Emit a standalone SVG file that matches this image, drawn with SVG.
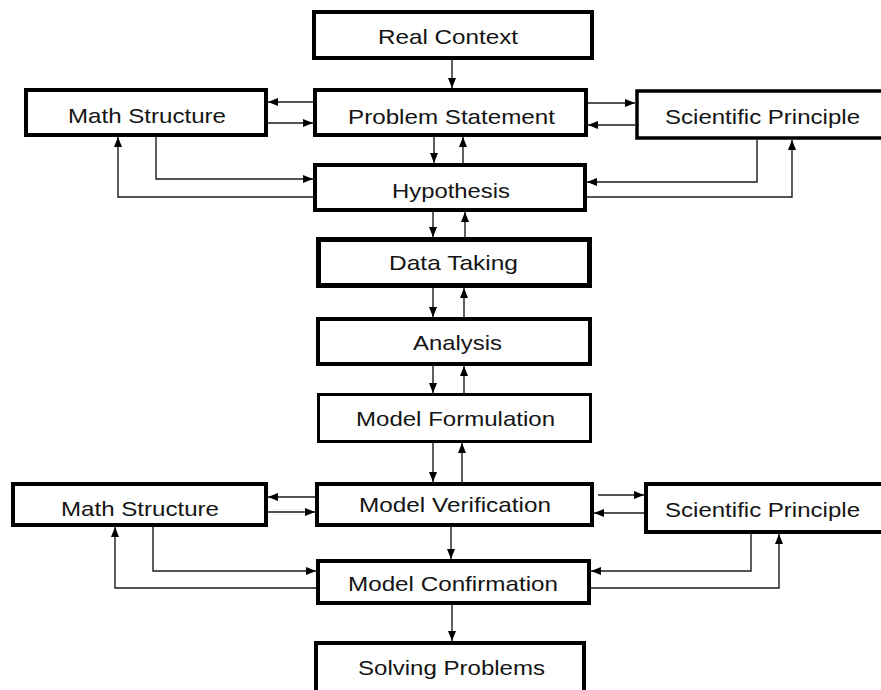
<svg xmlns="http://www.w3.org/2000/svg" width="881" height="690" viewBox="0 0 881 690">
  <style>
    .box { fill: #ffffff; stroke: #000000; stroke-width: 4; }
    .lbl { font-family: "Liberation Sans", Arial, sans-serif; font-size: 21px; fill: #141414; }
    .wire { fill: none; stroke: #1a1a1a; stroke-width: 1.4; marker-end: url(#head); }
  </style>
  <defs>
    <marker id="head" markerUnits="userSpaceOnUse" markerWidth="11" markerHeight="8" refX="10" refY="4" orient="auto">
      <path d="M0,0 L10,4 L0,8 z" fill="#000000"/>
    </marker>
  </defs>
  <rect width="881" height="690" fill="#ffffff"/>

  <!-- connectors -->
  <g id="connectors">
    <line class="wire" x1="452" y1="60" x2="452" y2="88"/>
    <line class="wire" x1="313" y1="102" x2="268" y2="102"/>
    <line class="wire" x1="268" y1="123" x2="313" y2="123"/>
    <line class="wire" x1="588" y1="103" x2="635" y2="103"/>
    <line class="wire" x1="635" y1="125" x2="588" y2="125"/>
    <line class="wire" x1="434" y1="137" x2="434" y2="163"/>
    <line class="wire" x1="463" y1="163" x2="463" y2="137"/>
    <path class="wire" d="M156,137 V179 H313"/>
    <path class="wire" d="M313,197 H118 V137"/>
    <path class="wire" d="M757,140 V182 H587"/>
    <path class="wire" d="M587,197 H792 V140"/>
    <line class="wire" x1="433" y1="212" x2="433" y2="237"/>
    <line class="wire" x1="465" y1="237" x2="465" y2="212"/>
    <line class="wire" x1="433" y1="288" x2="433" y2="317"/>
    <line class="wire" x1="464" y1="317" x2="464" y2="288"/>
    <line class="wire" x1="433" y1="366" x2="433" y2="393"/>
    <line class="wire" x1="464" y1="393" x2="464" y2="366"/>
    <line class="wire" x1="433" y1="443" x2="433" y2="482"/>
    <line class="wire" x1="462" y1="482" x2="462" y2="443"/>
    <line class="wire" x1="315" y1="497" x2="268" y2="497"/>
    <line class="wire" x1="268" y1="512" x2="315" y2="512"/>
    <line class="wire" x1="598" y1="495" x2="644" y2="495"/>
    <line class="wire" x1="644" y1="513" x2="594" y2="513"/>
    <line class="wire" x1="451" y1="527" x2="451" y2="559"/>
    <path class="wire" d="M153,527 V571 H316"/>
    <path class="wire" d="M316,588 H115 V527"/>
    <path class="wire" d="M751,534 V571 H591"/>
    <path class="wire" d="M591,588 H779 V534"/>
    <line class="wire" x1="452" y1="605" x2="452" y2="641"/>
  </g>

  <!-- nodes -->
  <g id="real-context">
    <rect class="box" x="314" y="12" width="278" height="46"/>
    <text class="lbl" x="378" y="44" textLength="140" lengthAdjust="spacingAndGlyphs">Real Context</text>
  </g>
  <g id="math-structure-top">
    <rect class="box" x="26" y="90" width="240" height="45"/>
    <text class="lbl" x="68" y="123" textLength="158" lengthAdjust="spacingAndGlyphs">Math Structure</text>
  </g>
  <g id="problem-statement">
    <rect class="box" x="315" y="90" width="271" height="45"/>
    <text class="lbl" x="348" y="124" textLength="207" lengthAdjust="spacingAndGlyphs">Problem Statement</text>
  </g>
  <g id="scientific-principle-top">
    <rect class="box" x="637" y="91" width="260" height="47" style="stroke-width:3.5"/>
    <text class="lbl" x="665" y="124" textLength="195" lengthAdjust="spacingAndGlyphs">Scientific Principle</text>
  </g>
  <g id="hypothesis">
    <rect class="box" x="315" y="165" width="270" height="45"/>
    <text class="lbl" x="392" y="198" textLength="118" lengthAdjust="spacingAndGlyphs">Hypothesis</text>
  </g>
  <g id="data-taking">
    <rect class="box" x="318.5" y="239.5" width="271" height="46" style="stroke-width:5"/>
    <text class="lbl" x="389" y="270" textLength="129" lengthAdjust="spacingAndGlyphs">Data Taking</text>
  </g>
  <g id="analysis">
    <rect class="box" x="318" y="319" width="272" height="45"/>
    <text class="lbl" x="413" y="350" textLength="89" lengthAdjust="spacingAndGlyphs">Analysis</text>
  </g>
  <g id="model-formulation">
    <rect class="box" x="318.5" y="394.5" width="272" height="47" style="stroke-width:3"/>
    <text class="lbl" x="356" y="426" textLength="199" lengthAdjust="spacingAndGlyphs">Model Formulation</text>
  </g>
  <g id="math-structure-bottom">
    <rect class="box" x="13" y="484" width="253" height="41"/>
    <text class="lbl" x="61" y="516" textLength="158" lengthAdjust="spacingAndGlyphs">Math Structure</text>
  </g>
  <g id="model-verification">
    <rect class="box" x="317" y="484" width="275" height="41"/>
    <text class="lbl" x="359" y="512" textLength="192" lengthAdjust="spacingAndGlyphs">Model Verification</text>
  </g>
  <g id="scientific-principle-bottom">
    <rect class="box" x="646" y="484" width="250" height="48"/>
    <text class="lbl" x="665" y="517" textLength="195" lengthAdjust="spacingAndGlyphs">Scientific Principle</text>
  </g>
  <g id="model-confirmation">
    <rect class="box" x="318" y="561" width="271" height="42"/>
    <text class="lbl" x="348" y="591" textLength="210" lengthAdjust="spacingAndGlyphs">Model Confirmation</text>
  </g>
  <g id="solving-problems">
    <rect class="box" x="316" y="643" width="268" height="60"/>
    <text class="lbl" x="358" y="675" textLength="187" lengthAdjust="spacingAndGlyphs">Solving Problems</text>
  </g>
</svg>
